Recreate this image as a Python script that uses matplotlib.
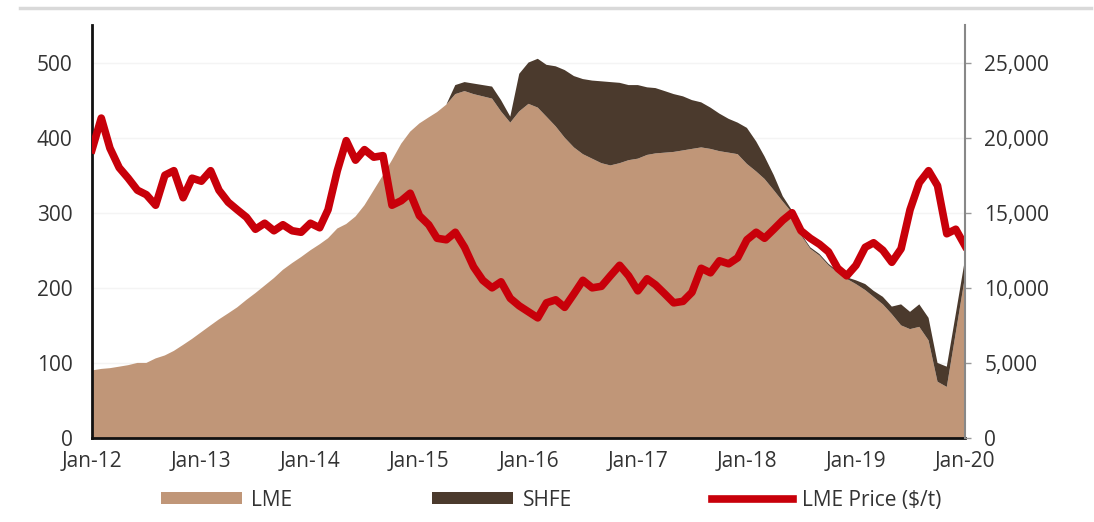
import matplotlib
matplotlib.use('Agg')
import matplotlib.pyplot as plt
import matplotlib.dates as mdates
import pandas as pd
from matplotlib.ticker import FuncFormatter, MultipleLocator
from matplotlib.patches import Patch
from matplotlib.lines import Line2D

plt.rcParams['font.family'] = ['Open Sans', 'DejaVu Sans']

# monthly, Jan-12 .. Jan-20
dates = pd.date_range('2012-01-01', '2020-01-01', freq='MS')

# LME stocks (kt)
lme = [90, 92, 93, 95, 97, 100, 100, 106, 110, 116, 124, 132,
       141, 150, 158, 166, 174, 184, 193, 203, 213, 224, 233, 241,
       250, 258, 266, 279, 285, 295, 310, 330, 350, 370, 392, 408,
       419, 427, 434, 444, 458, 462, 458, 455, 452, 435, 420, 435,
       445, 440, 428, 415, 400, 387, 378, 372, 366, 363, 366, 370,
       372, 377, 379, 380, 381, 383, 385, 387, 385, 382, 380, 378,
       365, 355, 345, 330, 315, 300, 270, 252, 243, 230, 220, 212,
       205, 197, 188, 178, 165, 150, 145, 148, 130, 75, 68, 140,
       215]

# SHFE stocks (kt), stacked on LME
shfe = [0, 0, 0, 0, 0, 0, 0, 0, 0, 0, 0, 0,
        0, 0, 0, 0, 0, 0, 0, 0, 0, 0, 0, 0,
        0, 0, 0, 0, 0, 0, 0, 0, 0, 0, 0, 0,
        0, 0, 0, 0, 12, 12, 14, 15, 16, 15, 8, 50,
        55, 65, 69, 80, 90, 95, 100, 104, 109, 111, 107, 100,
        98, 90, 87, 82, 77, 72, 65, 60, 55, 50, 45, 42,
        48, 40, 30, 20, 7, 3, 2, 2, 2, 2, 2, 2,
        5, 8, 8, 10, 10, 28, 23, 30, 30, 25, 27, 25,
        23]

# LME nickel price ($/t)
price = [19200, 21300, 19300, 18000, 17300, 16500, 16200, 15500, 17500, 17800, 16000, 17300,
         17100, 17800, 16500, 15700, 15200, 14700, 13900, 14300, 13800, 14200, 13800, 13700,
         14300, 14000, 15200, 17800, 19800, 18500, 19200, 18700, 18800, 15500, 15800, 16300,
         14800, 14200, 13300, 13200, 13700, 12700, 11400, 10500, 10000, 10400, 9300, 8800,
         8400, 8000, 9000, 9200, 8700, 9600, 10500, 10000, 10100, 10800, 11500, 10800,
         9800, 10600, 10200, 9600, 9000, 9100, 9700, 11300, 11000, 11800, 11600, 12000,
         13200, 13700, 13300, 13900, 14500, 15000, 13800, 13300, 12900, 12400, 11300, 10800,
         11500, 12700, 13000, 12500, 11700, 12600, 15200, 17000, 17800, 16800, 13600, 13900,
         12800]

tan = '#C09678'
brown = '#4B3A2D'
red = '#C8000A'
txt = '#333333'
fs = 15

fig = plt.figure(figsize=(10.94, 5.22), dpi=100)
ax = fig.add_axes([0.0841, 0.1609, 0.7980, 0.7912])

ax.stackplot(dates, lme, shfe, colors=[tan, brown], linewidth=0)
ax.set_ylim(0, 550)
ax.set_xlim(dates[0], dates[-1])
ax.yaxis.set_major_locator(MultipleLocator(100))
ax.grid(axis='y', color='#f4f4f4', linewidth=1)
ax.set_axisbelow(True)

ax.xaxis.set_major_locator(mdates.YearLocator())
ax.xaxis.set_major_formatter(mdates.DateFormatter('%b-%y'))
ax.tick_params(axis='x', length=0, pad=9, labelsize=fs, colors=txt)
ax.tick_params(axis='y', length=0, pad=14, labelsize=fs, colors=txt)

for s in ['top', 'right']:
    ax.spines[s].set_visible(False)
ax.spines['left'].set_color('#111111')
ax.spines['left'].set_linewidth(2)
ax.spines['bottom'].set_color('#111111')
ax.spines['bottom'].set_linewidth(2)

ax2 = ax.twinx()
ax2.plot(dates, price, color=red, linewidth=5.5, solid_joinstyle='round')
ax2.set_ylim(0, 27500)
ax2.yaxis.set_major_locator(MultipleLocator(5000))
ax2.yaxis.set_major_formatter(FuncFormatter(lambda v, p: f'{v:,.0f}'))
ax2.tick_params(axis='y', length=4, width=1, color='#999999', pad=10, labelsize=fs, labelcolor=txt)
for s in ['top', 'left', 'bottom']:
    ax2.spines[s].set_visible(False)
ax2.spines['right'].set_color('#888888')
ax2.spines['right'].set_linewidth(1.5)

# header rule
fig.add_artist(Line2D([0.018, 0.997], [0.985, 0.985], color='#d9d9d9', linewidth=2.5))

handles = [Patch(facecolor=tan, edgecolor='none'),
           Patch(facecolor=brown, edgecolor='none'),
           Line2D([0], [0], color=red, linewidth=5.5)]
fig.legend(handles, ['LME', 'SHFE', 'LME Price ($/t)'], loc='center left',
           bbox_to_anchor=(0.1375, 0.042), ncol=3, frameon=False, borderpad=0,
           fontsize=fs, handlelength=3.9, handleheight=0.55,
           columnspacing=6.7, handletextpad=0.45, labelcolor=txt)

fig.savefig('out.png', dpi=100)
